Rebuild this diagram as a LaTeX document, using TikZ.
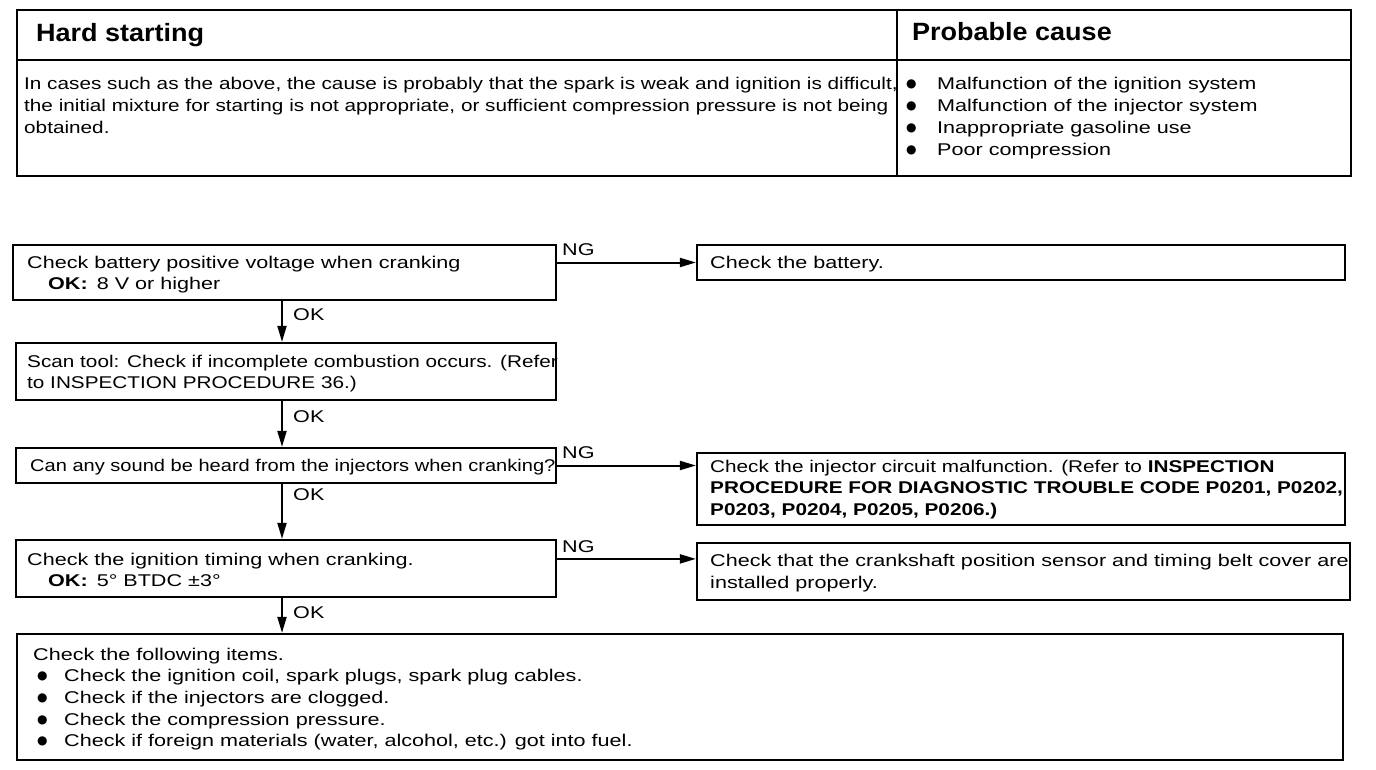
\documentclass[tikz,border=0pt]{standalone}
\usepackage{fontspec}
\setmainfont{Liberation Sans}[FakeStretch=1.27]
\newfontfamily\fmid{Liberation Sans}[FakeStretch=1.22]
\newfontfamily\fnar{Liberation Sans}[FakeStretch=1.18]
\newfontfamily\titlefont{Liberation Sans}[FakeStretch=1.08]
\newfontfamily\dejavu{DejaVu Sans}
\usetikzlibrary{arrows.meta}
\newcommand\bul[1]{\makebox[#1][l]{\raisebox{2pt}{\dejavu\fontsize{12}{12}\selectfont ●}}}
\begin{document}
\begin{tikzpicture}[x=1pt,y=-1pt,
  box/.style={draw, line width=2.2pt, rectangle, inner sep=0pt},
  txt/.style={inner sep=0pt, align=left, anchor=base west, font=\fontsize{17}{21.7}\selectfont},
  lbl/.style={inner sep=0pt, anchor=base west, font=\fontsize{17}{20}\selectfont},
  ttl/.style={inner sep=0pt, anchor=base west, font=\titlefont\bfseries\fontsize{25}{30}\selectfont},
  arr/.style={line width=2pt, -{Triangle[length=16pt,width=9pt]}}]
\useasboundingbox (0,0) rectangle (1376,770);
% ---- table ----
\draw[line width=2.4pt] (17,10) rectangle (1351,176);
\draw[line width=1.5pt] (17,60) -- (1351,60);
\draw[line width=1.1pt] (897,10) -- (897,176);
\node[ttl] (h1) at (36,42) {Hard starting};
\node[ttl] (h2) at (912,41) {Probable cause};
\node[txt, font=\fmid\fontsize{17}{21.7}\selectfont] (d1) at (24,133.4) {In cases such as the above, the cause is probably that the spark is weak and ignition is difficult,\\
the initial mixture for starting is not appropriate, or sufficient compression pressure is not being\\
obtained.};
\node[txt] (d2) at (906,155.1) {\bul{31pt}Malfunction of the ignition system\\
\bul{31pt}Malfunction of the injector system\\
\bul{31pt}Inappropriate gasoline use\\
\bul{31pt}Poor compression};
% ---- flowchart boxes ----
\node[box, minimum width=543, minimum height=55] (b1) at (284.5,272.5) {};
\node[box, minimum width=648, minimum height=35] (b2) at (1021,262.5) {};
\node[box, minimum width=540, minimum height=57] (b3) at (286,371.5) {};
\node[box, minimum width=540, minimum height=35] (b4) at (286,465.5) {};
\node[box, minimum width=648, minimum height=72] (b5) at (1021,489) {};
\node[box, minimum width=540, minimum height=57] (b6) at (286,568.5) {};
\node[box, minimum width=653, minimum height=57] (b7) at (1023.5,571.5) {};
\node[box, minimum width=1326, minimum height=126] (b8) at (680,697) {};
% ---- texts ----
\node[txt] (t1) at (27,289.7) {Check battery positive voltage when cranking\\
\hspace{21pt}\textbf{OK:}\hspace{9pt}8 V or higher};
\node[txt] (t2) at (710,269) {Check the battery.};
\node[txt, font=\fmid\fontsize{17}{21.7}\selectfont] (t3) at (27,388.7) {Scan tool: Check if incomplete combustion occurs. (Refer\\
to INSPECTION PROCEDURE 36.)};
\node[txt, font=\fnar\fontsize{17}{21.7}\selectfont] (t4) at (30,471) {Can any sound be heard from the injectors when cranking?};
\node[txt, font=\fmid\fontsize{17}{21.7}\selectfont] (t5) at (710,515.4) {Check the injector circuit malfunction. (Refer to \textbf{INSPECTION}\\
\textbf{PROCEDURE FOR DIAGNOSTIC TROUBLE CODE P0201, P0202,}\\
\textbf{P0203, P0204, P0205, P0206.)}};
\node[txt] (t6) at (27,586.7) {Check the ignition timing when cranking.\\
\hspace{21pt}\textbf{OK:}\hspace{9pt}5° BTDC ±3°};
\node[txt, font=\fontsize{17}{22.5}\selectfont] (t7) at (710,588.5) {Check that the crankshaft position sensor and timing belt cover are\\
installed properly.};
\node[txt] (t8) at (33,746.8) {Check the following items.\\
\hspace{4pt}\bul{27pt}Check the ignition coil, spark plugs, spark plug cables.\\
\hspace{4pt}\bul{27pt}Check if the injectors are clogged.\\
\hspace{4pt}\bul{27pt}Check the compression pressure.\\
\hspace{4pt}\bul{27pt}Check if foreign materials (water, alcohol, etc.) got into fuel.};
% ---- connectors ----
\coordinate (col) at (282,0);
\draw[arr] (b1.east |- b2.west) -- (b2.west);
\draw[arr] (b4.east) -- (b4.east -| b5.west);
\draw[arr] ([yshift=-20pt]b6.north east) -- ([yshift=-20pt]b6.north east -| b7.west);
\draw[arr] (b1.south -| col) -- (b3.north -| col);
\draw[arr] (b3.south -| col) -- (b4.north -| col);
\draw[arr] (b4.south -| col) -- (b6.north -| col);
\draw[arr] (b6.south -| col) -- (b8.north -| col);
% ---- labels ----
\node[lbl] (ng1) at (562,255) {NG};
\node[lbl] (ng2) at (562,458) {NG};
\node[lbl] (ng3) at (562,552) {NG};
\node[lbl] (ok1) at (293,320) {OK};
\node[lbl] (ok2) at (293,422) {OK};
\node[lbl] (ok3) at (293,500) {OK};
\node[lbl] (ok4) at (293,618) {OK};
\end{tikzpicture}
\end{document}
